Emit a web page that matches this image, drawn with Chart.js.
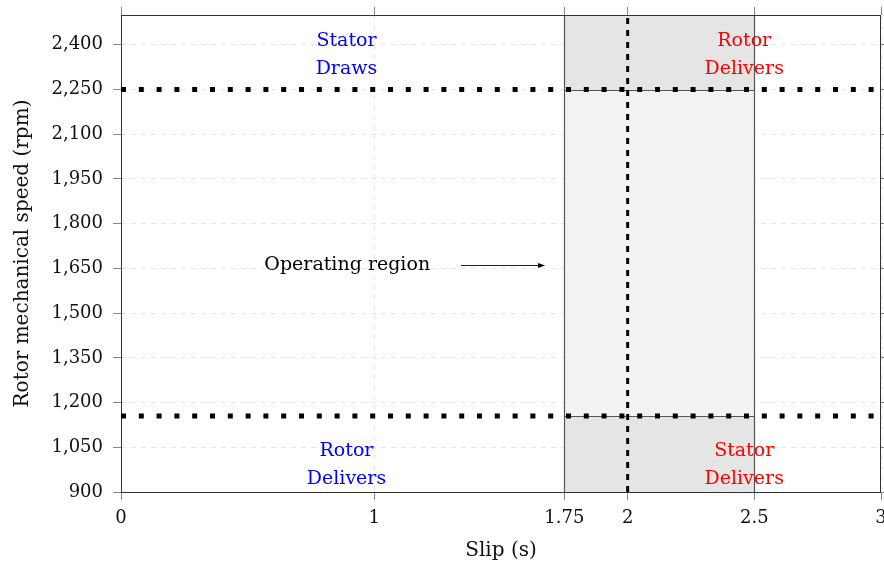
<!DOCTYPE html>
<html>
<head>
<meta charset="utf-8">
<script src="https://cdn.jsdelivr.net/npm/chart.js@4/dist/chart.umd.min.js"></script>
<style>
  html, body { margin: 0; padding: 0; background: #fff; }
  #wrap { width: 884px; height: 566px; }
</style>
</head>
<body>
<div id="wrap"><canvas id="chart" width="884" height="566"></canvas></div>
<script>
// Slip vs rotor speed operating region (DFIG style plot)

// ── data ──
const slipTicks = [0, 1, 1.75, 2, 2.5, 3];
const speedTicks = [900, 1050, 1200, 1350, 1500, 1650, 1800, 1950, 2100, 2250, 2400];
const speedRange = [900, 2500];
const speedBounds = [1155, 2250];      // dotted horizontal limits
const syncSlip = 2;                    // dotted vertical line
const regionSlip = [1.75, 2.5];        // shaded operating band
const cornerTexts = [["Stator", "Draws"], ["Rotor", "Delivers"], ["Rotor", "Delivers"], ["Stator", "Delivers"]];
const arrowText = "Operating region";

// where the notes sit, in axis units
const cornerAnchors = [[0.89, 2366], [2.46, 2366], [0.89, 990], [2.46, 990]];
const cornerColors = ["#0000ff", "#ff0000", "#0000ff", "#ff0000"];
const arrowAnchor = { textX: 0.893, fromX: 1.342, toX: 1.674, y: 1660 };

const SERIF = '"DejaVu Serif", serif';
const fmt = new Intl.NumberFormat("en-US");

const overlay = {
  id: "overlay",
  beforeDatasetsDraw(chart) {
    const { ctx, chartArea: a, scales: { x, y } } = chart;
    const px = v => Math.round(x.getPixelForValue(v)) + 0.5;
    const py = v => Math.round(y.getPixelForValue(v)) + 0.5;
    const x0 = px(regionSlip[0]), x1 = px(regionSlip[1]);
    const yHi = py(speedBounds[1]), yLo = py(speedBounds[0]);
    ctx.save();
    ctx.fillStyle = "#e5e5e5";
    ctx.fillRect(x0, a.top, x1 - x0, a.bottom - a.top);
    ctx.fillStyle = "#f2f2f2";
    ctx.fillRect(x0, yHi, x1 - x0, yLo - yHi);
    ctx.strokeStyle = "#555";
    ctx.lineWidth = 1.2;
    ctx.beginPath();
    ctx.moveTo(x0, a.top); ctx.lineTo(x0, a.bottom);
    ctx.moveTo(x1, a.top); ctx.lineTo(x1, a.bottom);
    ctx.moveTo(x0, yHi); ctx.lineTo(x1, yHi);
    ctx.moveTo(x0, yLo); ctx.lineTo(x1, yLo);
    ctx.stroke();
    // frame
    ctx.strokeStyle = "#333";
    ctx.lineWidth = 1;
    ctx.strokeRect(Math.round(a.left) + 0.5, Math.round(a.top) + 0.5,
      Math.round(a.right - a.left) - 1, Math.round(a.bottom - a.top));
    ctx.restore();
  },
  afterDatasetsDraw(chart) {
    const { ctx, scales: { x, y } } = chart;
    ctx.save();
    ctx.font = "19px " + SERIF;
    ctx.textAlign = "center";
    ctx.textBaseline = "middle";
    cornerTexts.forEach((lines, i) => {
      const cx = x.getPixelForValue(cornerAnchors[i][0]);
      const cy = y.getPixelForValue(cornerAnchors[i][1]);
      ctx.fillStyle = cornerColors[i];
      lines.forEach((t, j) => ctx.fillText(t, cx, cy + (j - (lines.length - 1) / 2) * 28));
    });
    // arrow note
    const ay = Math.round(y.getPixelForValue(arrowAnchor.y)) + 0.5;
    ctx.fillStyle = "#000";
    ctx.fillText(arrowText, x.getPixelForValue(arrowAnchor.textX), ay);
    const ax0 = x.getPixelForValue(arrowAnchor.fromX), ax1 = x.getPixelForValue(arrowAnchor.toX);
    ctx.strokeStyle = "#222";
    ctx.lineWidth = 1;
    ctx.beginPath();
    ctx.moveTo(ax0, ay); ctx.lineTo(ax1 - 5, ay);
    ctx.stroke();
    ctx.beginPath();
    ctx.moveTo(ax1, ay); ctx.lineTo(ax1 - 7, ay - 2.5); ctx.lineTo(ax1 - 7, ay + 2.5);
    ctx.closePath();
    ctx.fill();
    ctx.restore();
  },
};

const flatLine = v => [{ x: slipTicks[0], y: v }, { x: slipTicks[slipTicks.length - 1], y: v }];

const tickFont = { family: SERIF, size: 18 };
const grid = { color: "#e6e6e6", lineWidth: 1, tickColor: "#888", tickLength: 8 };
const setTicks = list => scale => { scale.ticks = list.map(v => ({ value: v })); };
// fixed box sizes, and no extra room for overhanging labels
const fixH = h => s => { s.height = h; s.paddingLeft = 0; s.paddingRight = 0; };
const fixW = w => s => { s.width = w; s.paddingTop = 0; s.paddingBottom = 0; };

new Chart(document.getElementById("chart"), {
  type: "scatter",
  data: {
    datasets: [
      ...speedBounds.map(v => ({
        data: flatLine(v),
        showLine: true,
        borderColor: "#000",
        borderWidth: 5,
        borderDash: [5, 12.8],
        borderCapStyle: "butt",
        pointRadius: 0,
      })),
      {
        data: [{ x: syncSlip, y: speedRange[0] }, { x: syncSlip, y: speedRange[1] }],
        showLine: true,
        borderColor: "#000",
        borderWidth: 3,
        borderDash: [6, 6],
        borderCapStyle: "butt",
        pointRadius: 0,
      },
    ],
  },
  options: {
    responsive: false,
    animation: false,
    layout: { padding: 0 },
    plugins: { legend: { display: false }, tooltip: { enabled: false } },
    scales: {
      x: {
        type: "linear",
        position: "bottom",
        min: slipTicks[0],
        max: slipTicks[slipTicks.length - 1],
        afterBuildTicks: setTicks(slipTicks),
        afterFit: fixH(74),
        grid,
        border: { display: false, dash: [5, 5] },
        ticks: { font: tickFont, color: "#111", padding: 8, maxRotation: 0, autoSkip: false, callback: v => String(v) },
        title: { display: true, text: "Slip (s)", font: { family: SERIF, size: 20 }, color: "#111", padding: { top: 0, bottom: 3 } },
      },
      xTop: {
        type: "linear",
        position: "top",
        min: slipTicks[0],
        max: slipTicks[slipTicks.length - 1],
        afterBuildTicks: setTicks(slipTicks),
        afterFit: fixH(15),
        grid: { ...grid, drawOnChartArea: false },
        border: { display: false },
        ticks: { display: false },
      },
      y: {
        type: "linear",
        position: "left",
        min: speedRange[0],
        max: speedRange[1],
        afterBuildTicks: setTicks(speedTicks),
        afterFit: fixW(121),
        grid,
        border: { display: false, dash: [5, 5] },
        ticks: { font: tickFont, color: "#111", padding: 10, autoSkip: false, callback: v => fmt.format(v) },
        title: { display: true, text: "Rotor mechanical speed (rpm)", font: { family: SERIF, size: 20 }, color: "#111", padding: { top: 11, bottom: 0 } },
      },
      yRight: {
        type: "linear",
        position: "right",
        min: speedRange[0],
        max: speedRange[1],
        afterBuildTicks: setTicks(speedTicks),
        afterFit: fixW(3),
        grid: { ...grid, drawOnChartArea: false },
        border: { display: false },
        ticks: { display: false },
      },
    },
  },
  plugins: [overlay],
});
</script>
</body>
</html>
